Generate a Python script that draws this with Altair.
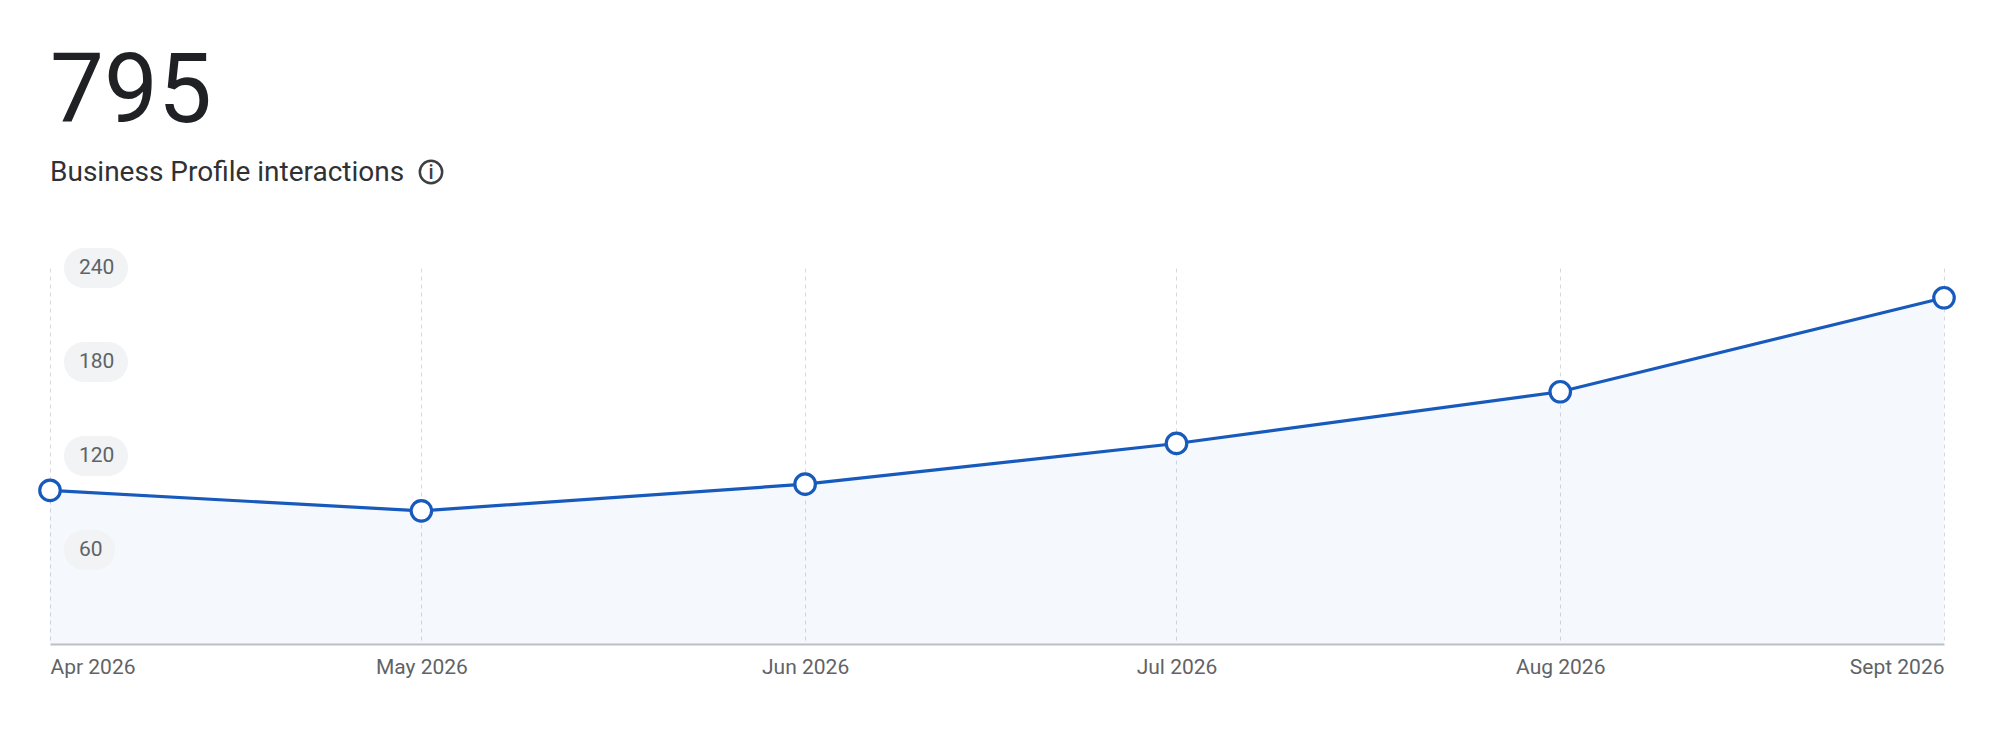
import altair as alt
import pandas as pd

# ---- data ----
months = ["2026-04-01", "2026-05-01", "2026-06-01", "2026-07-01", "2026-08-01", "2026-09-01"]
interactions = [98, 85, 102, 128, 161, 221]
month_labels = ["Apr 2026", "May 2026", "Jun 2026", "Jul 2026", "Aug 2026", "Sept 2026"]
y_ticks = [60, 120, 180, 240]
total_text = "795"
subtitle_text = "Business Profile interactions"

df = pd.DataFrame({"date": months, "value": interactions})
ticks_df = pd.DataFrame({"tick": y_ticks, "label": [str(t) for t in y_ticks]})
header_df = pd.DataFrame({"total": [total_text], "sub": [subtitle_text], "icon": ["i"]})

BLUE = "#185ABC"
FONT = "Roboto"

x_scale = alt.Scale(type="utc", nice=False, padding=0)
y_scale = alt.Scale(domain=[0, 240], nice=False, zero=True)

label_expr = "[" + ",".join("'%s'" % l for l in month_labels) + "][utcmonth(datum.value) - 3]"

x_axis = alt.Axis(
    title=None,
    tickCount={"interval": "month", "step": 1},
    labelExpr=label_expr,
    labelFlush=True,
    grid=True,
    gridDash=[4, 4],
    gridColor="#d5d8dc",
    gridWidth=1,
    domainColor="#bdc1c6",
    domainWidth=2,
    ticks=False,
    labelPadding=12,
    labelFontSize=21,
    labelColor="#5f6368",
    labelFont=FONT,
    labelBaseline="top",
)

base = alt.Chart(df).encode(
    x=alt.X("date:T", scale=x_scale, axis=x_axis),
    y=alt.Y("value:Q", scale=y_scale, axis=None),
)

area = base.mark_area(color="#1a73e8", opacity=0.045)
line = base.mark_line(color=BLUE, strokeWidth=3.2)
points = base.mark_point(
    shape="circle", filled=True, fill="white", fillOpacity=1,
    stroke=BLUE, strokeWidth=3.2, size=420, opacity=1,
)

# pill backgrounds for the y tick labels
pill_base = alt.Chart(ticks_df).transform_calculate(
    lo="datum.tick - 12.8", hi="datum.tick + 12.8"
)
pill3 = pill_base.transform_filter("length(datum.label) == 3").mark_rect(
    color="#f1f3f4", cornerRadius=20
).encode(
    x=alt.value(14), x2=alt.value(78),
    y=alt.Y("lo:Q", scale=y_scale, axis=None), y2="hi:Q",
)
pill2 = pill_base.transform_filter("length(datum.label) == 2").mark_rect(
    color="#f1f3f4", cornerRadius=20
).encode(
    x=alt.value(14), x2=alt.value(65),
    y=alt.Y("lo:Q", scale=y_scale, axis=None), y2="hi:Q",
)
pill_text = alt.Chart(ticks_df).mark_text(
    align="left", baseline="middle", fontSize=21, font=FONT, color="#5f6368"
).encode(
    x=alt.value(29),
    y=alt.Y("tick:Q", scale=y_scale, axis=None),
    text="label:N",
)

# header: big total, subtitle and info icon
header = alt.Chart(header_df)
total_mark = header.mark_text(
    align="left", baseline="alphabetic", fontSize=96, font=FONT, fontWeight=400, color="#202124"
).encode(x=alt.value(0), y=alt.value(-146), text="total:N")
sub_mark = header.mark_text(
    align="left", baseline="alphabetic", fontSize=28, font=FONT, fontWeight=400, color="#303134"
).encode(x=alt.value(0), y=alt.value(-87), text="sub:N")
icon_circle = header.mark_point(
    shape="circle", size=500, stroke="#3c4043", strokeWidth=2.5, filled=False, opacity=1
).encode(x=alt.value(381), y=alt.value(-96))
icon_text = header.mark_text(
    fontSize=20, font=FONT, fontWeight=500, color="#3c4043", baseline="middle", align="center"
).encode(x=alt.value(381), y=alt.value(-95), text="icon:N")

chart = alt.layer(
    area, pill3, pill2, pill_text, line, points,
    total_mark, sub_mark, icon_circle, icon_text,
).properties(
    width=1894,
    height=376,
    autosize=alt.AutoSizeParams(type="none"),
    padding={"left": 42, "top": 260, "right": 30, "bottom": 40},
).configure_view(stroke=None)

chart.save("out.html", embed_options={"renderer": "svg", "actions": False})
